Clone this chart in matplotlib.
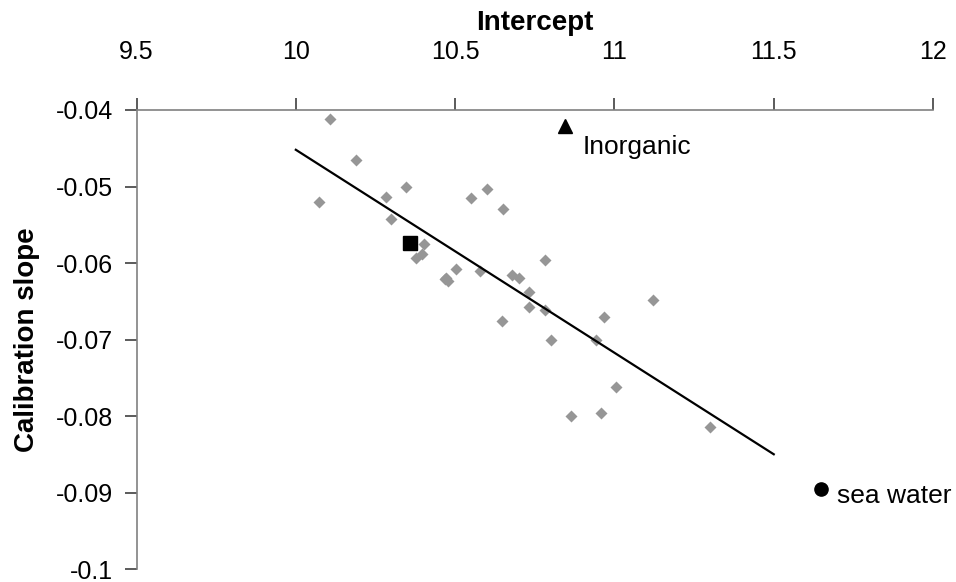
import matplotlib
matplotlib.use("Agg")
import matplotlib.pyplot as plt

plt.rcParams['font.family'] = ['Liberation Sans', 'DejaVu Sans']

# sample calibrations (intercept, slope)
intercept = [10.108, 10.190, 10.073, 10.347, 10.284, 10.550, 10.600, 10.650,
             10.298, 10.402, 10.395, 10.376, 10.502, 10.472, 10.478, 10.468,
             10.577, 10.678, 10.700, 10.731, 10.731, 10.782, 10.782, 10.647,
             10.801, 10.966, 11.121, 10.941, 11.004, 10.864, 10.958, 11.301]
slope = [-0.0412, -0.0466, -0.0520, -0.0500, -0.0514, -0.0515, -0.0503, -0.0529,
         -0.0542, -0.0575, -0.0588, -0.0593, -0.0608, -0.0619, -0.0624, -0.0621,
         -0.0610, -0.0616, -0.0620, -0.0638, -0.0658, -0.0596, -0.0661, -0.0676,
         -0.0700, -0.0670, -0.0649, -0.0700, -0.0762, -0.0800, -0.0796, -0.0814]

# fit line end points
fit_x = [10.0, 11.5]
fit_y = [-0.0452, -0.0850]

mean_pt = (10.358, -0.0574)
inorganic = (10.845, -0.0421)
sea_water = (11.648, -0.0895)

fig = plt.figure(figsize=(9.56, 5.82), dpi=100)
ax = fig.add_axes([0.1428, 0.0223, 0.976 - 0.1428, 0.811 - 0.0223])

ax.plot(intercept, slope, 'D', color='#969696', ms=6, mec='none')
ax.plot(fit_x, fit_y, color='black', lw=1.6)
ax.plot(*mean_pt, 's', color='black', ms=10)
ax.plot(*inorganic, '^', color='black', ms=10)
ax.plot(*sea_water, 'o', color='black', ms=9.5)
ax.text(inorganic[0] + 0.055, inorganic[1] - 0.0012, 'Inorganic', fontsize=19,
        va='top', ha='left')
ax.text(sea_water[0] + 0.05, sea_water[1] - 0.0009, 'sea water', fontsize=19,
        va='center', ha='left')

ax.set_xlim(9.5, 12)
ax.set_ylim(-0.1, -0.04)
ax.set_xticks([9.5, 10, 10.5, 11, 11.5, 12])
ax.set_xticklabels(['9.5', '10', '10.5', '11', '11.5', '12'])
ax.set_yticks([-0.04, -0.05, -0.06, -0.07, -0.08, -0.09, -0.1])
ax.set_yticklabels(['-0.04', '-0.05', '-0.06', '-0.07', '-0.08', '-0.09', '-0.1'])

ax.xaxis.tick_top()
ax.xaxis.set_label_position('top')
for s in ['right', 'bottom']:
    ax.spines[s].set_visible(False)
for s in ['top', 'left']:
    ax.spines[s].set_color('#808080')
    ax.spines[s].set_linewidth(1.2)
ax.tick_params(direction='out', length=9, width=1.2, color='#404040',
               labelsize=18)
ax.tick_params(axis='x', pad=24)
ax.tick_params(axis='y', pad=8)

ax.set_xlabel('Intercept', fontsize=20, fontweight='bold', labelpad=7)
ax.set_ylabel('Calibration slope', fontsize=20, fontweight='bold', labelpad=11)

fig.savefig('out.png', dpi=100)
